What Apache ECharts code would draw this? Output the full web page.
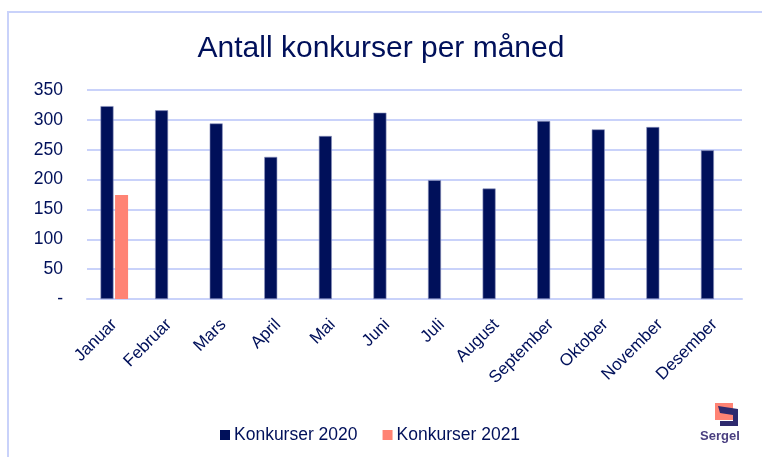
<!DOCTYPE html>
<html>
<head>
<meta charset="utf-8">
<script src="https://cdn.jsdelivr.net/npm/echarts@6/dist/echarts.min.js"></script>
<style>
  html, body { margin: 0; padding: 0; background: #fff; }
  #main { width: 762px; height: 457px; }
</style>
</head>
<body>
<div id="main"></div>
<script>
// data
const months = ['Januar', 'Februar', 'Mars', 'April', 'Mai', 'Juni', 'Juli', 'August', 'September', 'Oktober', 'November', 'Desember'];
const konkurser2020 = [323, 316, 294, 238, 273, 312, 199, 185, 298, 284, 288, 249];
const konkurser2021 = [174, null, null, null, null, null, null, null, null, null, null, null];
const yTicks = [0, 50, 100, 150, 200, 250, 300, 350];

const navy = '#00105a';
const salmon = '#ff8374';
const gridCol = '#c9d2fa';

let myChart = echarts.init(document.getElementById('main'));

let option = {
  animation: false,
  textStyle: { fontFamily: 'Liberation Sans, Arial, sans-serif' },
  title: {
    text: 'Antall konkurser per måned',
    left: 'center',
    top: 29,
    textStyle: { color: navy, fontSize: 30, fontWeight: 'normal' }
  },
  legend: {
    bottom: 8,
    left: 215,
    itemWidth: 10,
    itemHeight: 10,
    itemGap: 25,
    icon: 'rect',
    itemStyle: { borderWidth: 0 },
    textStyle: { color: navy, fontSize: 17.5, padding: [0, 0, 0, -1] },
    data: ['Konkurser 2020', 'Konkurser 2021']
  },
  grid: { left: 87, right: 20, top: 90, bottom: 158 },
  xAxis: {
    type: 'category',
    data: months,
    axisLine: { lineStyle: { color: gridCol, width: 2 } },
    axisTick: { show: false },
    axisLabel: { rotate: 45, color: navy, fontSize: 17, margin: 23, interval: 0 }
  },
  yAxis: {
    type: 'value',
    min: yTicks[0],
    max: yTicks[yTicks.length - 1],
    interval: 50,
    axisLine: { show: false },
    axisTick: { show: false },
    splitLine: { lineStyle: { color: gridCol, width: 2 } },
    axisLabel: {
      color: navy,
      fontSize: 17.5,
      margin: 24,
      formatter: v => (v === 0 ? '-' : String(v))
    }
  },
  series: [
    {
      name: 'Konkurser 2020',
      type: 'bar',
      data: konkurser2020,
      barWidth: 13,
      barGap: '12%',
      itemStyle: { color: navy, borderColor: '#8c93bf', borderWidth: 0.6 }
    },
    {
      name: 'Konkurser 2021',
      type: 'bar',
      data: konkurser2021,
      barWidth: 13,
      itemStyle: { color: salmon }
    }
  ],
  graphic: [
    {
      type: 'rect',
      shape: { x: 8, y: 12, width: 800, height: 500 },
      style: { fill: 'none', stroke: gridCol, lineWidth: 2 },
      silent: true
    },
    // Sergel logo
    {
      type: 'rect',
      shape: { x: 715, y: 403, width: 18, height: 17 },
      style: { fill: salmon }
    },
    {
      type: 'polygon',
      shape: { points: [[718, 406], [738, 409], [738, 426], [720, 426], [720, 421], [733, 421], [733, 415], [720, 413]] },
      style: { fill: '#2e2a6e' }
    },
    {
      type: 'text',
      left: 700,
      top: 430,
      style: { text: 'Sergel', fill: '#4a3f80', fontSize: 13, fontWeight: 'bold', fontFamily: 'Liberation Sans, Arial, sans-serif' }
    }
  ]
};

myChart.setOption(option);
</script>
</body>
</html>
